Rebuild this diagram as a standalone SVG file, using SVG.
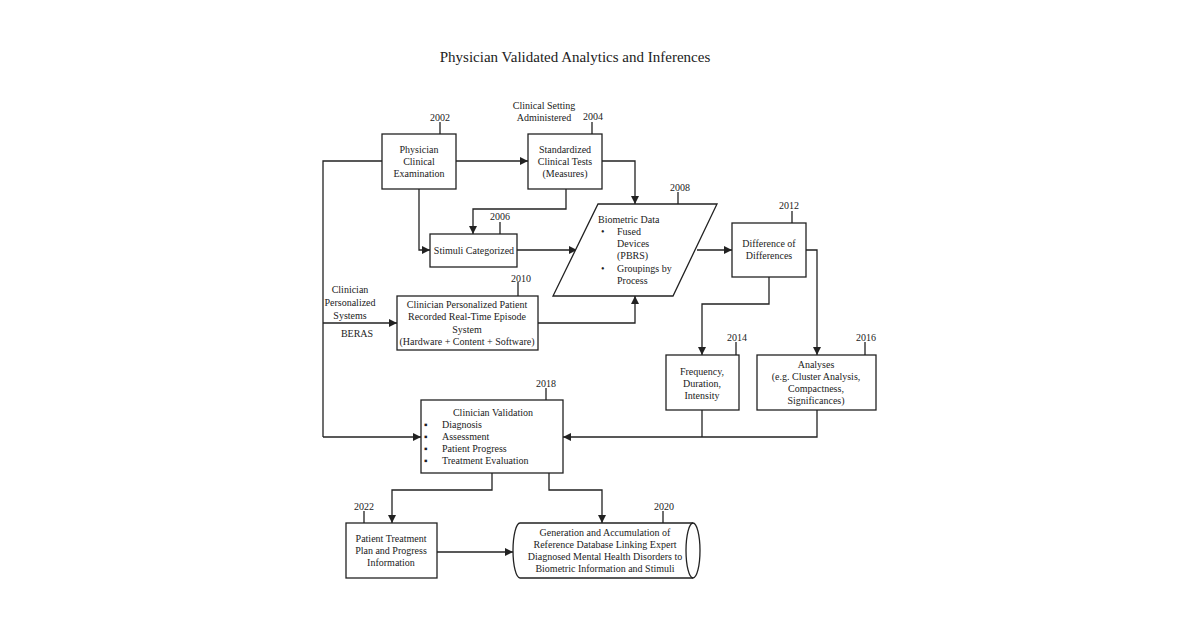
<svg xmlns="http://www.w3.org/2000/svg" width="1200" height="630" viewBox="0 0 1200 630">
<style>
text{font-family:"Liberation Serif","Times New Roman",serif;font-size:10px;fill:#222}
.c{text-anchor:middle}
.b{fill:#fff;stroke:#222;stroke-width:1.3}
.l{fill:none;stroke:#222;stroke-width:1.3}
.a{fill:none;stroke:#222;stroke-width:1.3;marker-end:url(#ah)}
</style>
<defs><marker id="ah" viewBox="0 0 10 10" refX="10" refY="5" markerWidth="8" markerHeight="8" markerUnits="userSpaceOnUse" orient="auto"><path d="M0,0L10,5L0,10z" fill="#222"/></marker></defs>
<rect width="1200" height="630" fill="#fff"/>
<text class="c" x="575" y="62" style="font-size:15px">Physician Validated Analytics and Inferences</text>
<g id="connectors">
<path class="a" d="M456,161H528"/>
<path class="a" d="M602,161H635V204"/>
<path class="a" d="M419,189V250H430"/>
<path class="a" d="M566,189V209H473V234"/>
<path class="a" d="M517,250H577"/>
<path class="a" d="M697,250H732"/>
<path class="a" d="M538,323H635V296"/>
<path class="l" d="M382,161H323V437"/>
<path class="a" d="M323,323H397"/>
<path class="a" d="M323,437H421"/>
<path class="a" d="M806,250H817V355"/>
<path class="a" d="M769,277V304H702V355"/>
<path class="l" d="M702,410V437"/>
<path class="a" d="M817,410V437H563"/>
<path class="a" d="M492,473V490H392V523"/>
<path class="a" d="M549,473V490H602V523"/>
<path class="a" d="M437,552H513"/>
<path class="l" d="M440,122V134M592,122V134M500,222V234M678,192V204M792,211V223M518,282V296M736,342V355M865,342V355M546,388V400M364,511V523M663,511V523"/>
</g>
<g id="labels">
<text class="c" x="440" y="121">2002</text>
<text class="c" x="544" y="109">Clinical Setting</text>
<text class="c" x="544" y="121">Administered</text>
<text class="c" x="593" y="120">2004</text>
<text class="c" x="500" y="220">2006</text>
<text class="c" x="680" y="191">2008</text>
<text class="c" x="521" y="282">2010</text>
<text class="c" x="789" y="209">2012</text>
<text class="c" x="737" y="341">2014</text>
<text class="c" x="866" y="341">2016</text>
<text class="c" x="546" y="387">2018</text>
<text class="c" x="364" y="510">2022</text>
<text class="c" x="664" y="510">2020</text>
<text class="c" x="350" y="293">Clinician</text>
<text class="c" x="350" y="306">Personalized</text>
<text class="c" x="350" y="319">Systems</text>
<text class="c" x="357" y="337">BERAS</text>
</g>
<g id="n2002"><rect class="b" x="382" y="134" width="74" height="55"/>
<text class="c" x="419" y="153">Physician</text><text class="c" x="419" y="165">Clinical</text><text class="c" x="419" y="177">Examination</text></g>
<g id="n2004"><rect class="b" x="528" y="134" width="74" height="55"/>
<text class="c" x="565" y="153">Standardized</text><text class="c" x="565" y="165">Clinical Tests</text><text class="c" x="565" y="177">(Measures)</text></g>
<g id="n2006"><rect class="b" x="430" y="234" width="87" height="33"/>
<text class="c" x="474" y="254">Stimuli Categorized</text></g>
<g id="n2008"><path class="b" d="M598,204H717L673,296H553Z"/>
<text x="598" y="223">Biometric Data</text>
<text x="601" y="235">•</text><text x="617" y="235">Fused</text>
<text x="617" y="247">Devices</text><text x="617" y="259">(PBRS)</text>
<text x="601" y="272">•</text><text x="617" y="272">Groupings by</text><text x="617" y="284">Process</text></g>
<g id="n2010"><rect class="b" x="397" y="296" width="141" height="54"/>
<text class="c" x="467" y="308">Clinician Personalized Patient</text><text class="c" x="467" y="320">Recorded Real-Time Episode</text><text class="c" x="467" y="333">System</text><text class="c" x="467" y="345">(Hardware + Content + Software)</text></g>
<g id="n2012"><rect class="b" x="732" y="223" width="74" height="54"/>
<text class="c" x="769" y="247">Difference of</text><text class="c" x="769" y="259">Differences</text></g>
<g id="n2014"><rect class="b" x="666" y="355" width="73" height="55"/>
<text class="c" x="702" y="375">Frequency,</text><text class="c" x="702" y="387">Duration,</text><text class="c" x="702" y="399">Intensity</text></g>
<g id="n2016"><rect class="b" x="757" y="355" width="119" height="55"/>
<text class="c" x="816" y="368">Analyses</text><text class="c" x="816" y="380">(e.g. Cluster Analysis,</text><text class="c" x="816" y="392">Compactness,</text><text class="c" x="816" y="404">Significances)</text></g>
<g id="n2018"><rect class="b" x="421" y="400" width="142" height="73"/>
<text class="c" x="493" y="416">Clinician Validation</text>
<text x="424" y="428">▪</text><text x="442" y="428">Diagnosis</text>
<text x="424" y="440">▪</text><text x="442" y="440">Assessment</text>
<text x="424" y="452">▪</text><text x="442" y="452">Patient Progress</text>
<text x="424" y="464">▪</text><text x="442" y="464">Treatment Evaluation</text></g>
<g id="n2022"><rect class="b" x="346" y="523" width="91" height="55"/>
<text class="c" x="391" y="542">Patient Treatment</text><text class="c" x="391" y="554">Plan and Progress</text><text class="c" x="391" y="566">Information</text></g>
<g id="n2020"><path class="b" d="M520,523H693A7,27.5 0 0 1 693,578H520A7,27.5 0 0 1 520,523Z"/>
<path class="l" d="M693,523A7,27.5 0 0 0 693,578"/>
<text class="c" x="605" y="536">Generation and Accumulation of</text><text class="c" x="605" y="548">Reference Database Linking Expert</text><text class="c" x="605" y="560">Diagnosed Mental Health Disorders to</text><text class="c" x="605" y="572">Biometric Information and Stimuli</text></g>
</svg>
